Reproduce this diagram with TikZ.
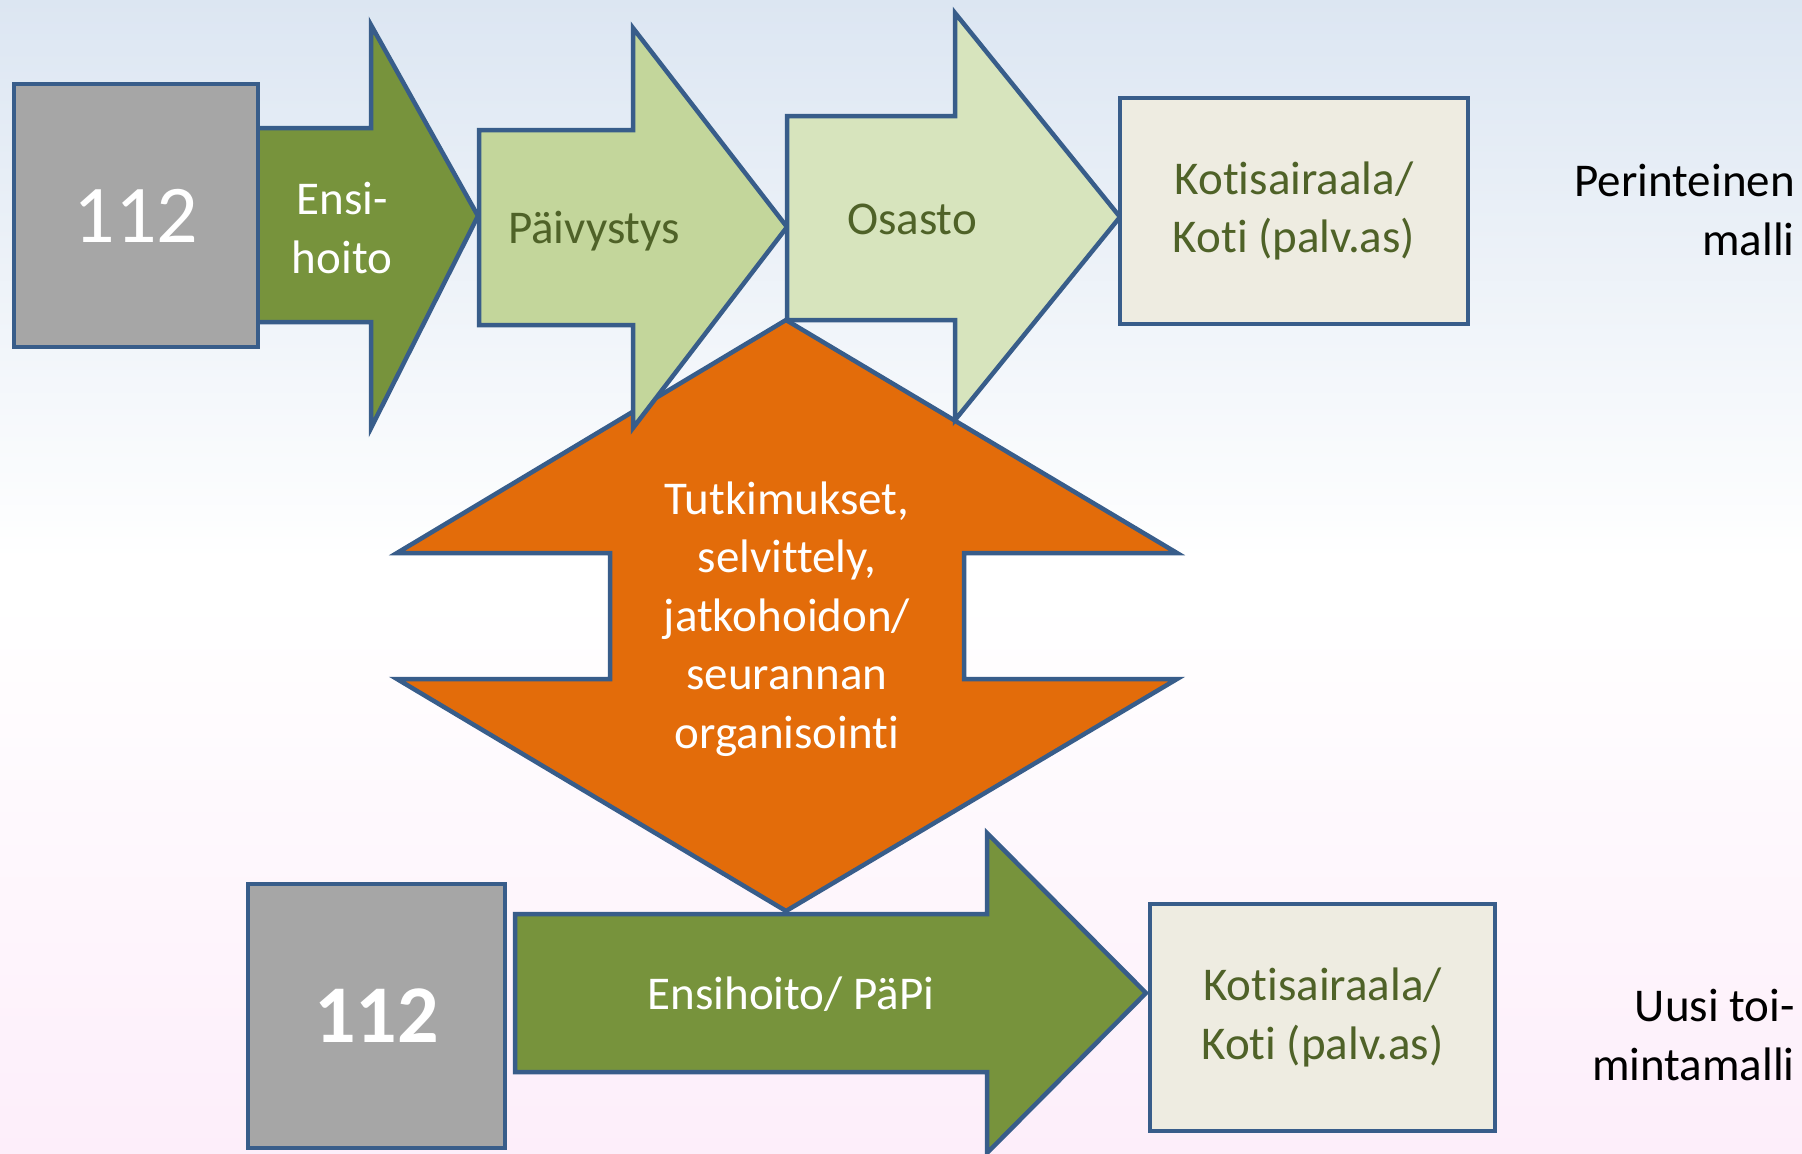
\documentclass[tikz,border=0pt]{standalone}
\usepackage{fontspec}
\setmainfont{Carlito}[Ligatures=NoCommon]
\definecolor{outl}{HTML}{385D8A}
\definecolor{graybox}{HTML}{A6A6A6}
\definecolor{dkgreen}{HTML}{77933C}
\definecolor{midgreen}{HTML}{C3D69B}
\definecolor{ltgreen}{HTML}{D7E4BD}
\definecolor{beige}{HTML}{EEECE1}
\definecolor{orng}{HTML}{E36C0A}
\definecolor{txtgreen}{HTML}{4F6228}
\definecolor{bgblue}{HTML}{DCE6F2}
\definecolor{bgpink}{HTML}{FDEEFA}
\begin{document}
\begin{tikzpicture}[x=1pt,y=-1pt,line join=miter,
  shapeline/.style={draw=outl,line width=4.5pt},
  lbl/.style={font=\fontsize{47}{58.5}\selectfont,align=center,inner sep=0pt},
  bignum/.style={font=\fontsize{82}{90}\selectfont,text=white},
  box/.style={shapeline,rectangle,inner sep=0pt}]
\useasboundingbox (0,0) rectangle (1802,1154);
% background
\shade[top color=bgblue,bottom color=white] (0,0) rectangle (1802,560);
\fill[white] (0,559) rectangle (1802,600);
\shade[top color=white,bottom color=bgpink] (0,600) rectangle (1802,1154);

% orange double arrow (behind)
\draw[shapeline,fill=orng] (786,320) -- (1177,553) -- (964,553) -- (964,679) -- (1177,679)
  -- (786,911) -- (397,679) -- (610,679) -- (610,553) -- (397,553) -- cycle;
\node[lbl,text=white] (tutk) at (787,619) {Tutkimukset,\\selvittely,\\jatkohoidon/\\seurannan\\organisointi};

% top row
\draw[shapeline,fill=dkgreen] (256,128) -- (371,128) -- (371,25) -- (478,216) -- (371,428) -- (371,322) -- (256,322) -- cycle;
\node[box,fill=graybox,minimum width=244pt,minimum height=263pt,bignum] (n112a) at (136,215.5) {112};
\node[lbl,text=white] (ensi) at (342,228) {Ensi-\\hoito};

\draw[shapeline,fill=midgreen] (479,130) -- (633,130) -- (633,28) -- (787,227) -- (633,428) -- (633,325) -- (479,325) -- cycle;
\node[lbl,text=txtgreen] (paiv) at (594,231) {Päivystys};

\draw[shapeline,fill=ltgreen] (787,116) -- (955,116) -- (955,13) -- (1120,217) -- (955,420) -- (955,320) -- (787,320) -- cycle;
\node[lbl,text=txtgreen] (osasto) at (912,219) {Osasto};

\node[box,fill=beige,minimum width=348pt,minimum height=226pt,lbl,text=txtgreen] (koti1) at (1294,211) {Kotisairaala/\\Koti (palv.as)};

\node[lbl,anchor=east,align=right,text=black] (perint) at (1795,210) {Perinteinen\\malli};

% bottom row
\draw[shapeline,fill=dkgreen] (515,914) -- (987,914) -- (987,833) -- (1146,993) -- (987,1153) -- (987,1072) -- (515,1072) -- cycle;
\node[lbl,text=white] (papi) at (791,994) {Ensihoito/ PäPi};
\node[box,fill=graybox,minimum width=257pt,minimum height=264pt,bignum,font=\fontsize{82}{90}\selectfont\bfseries] (n112b) at (376.5,1016) {112};
\node[box,fill=beige,minimum width=345pt,minimum height=227pt,lbl,text=txtgreen] (koti2) at (1322.5,1017.5) {Kotisairaala/\\Koti (palv.as)};
\node[lbl,anchor=east,align=right,text=black] (uusi) at (1795,1035) {Uusi toi-\\mintamalli};
\end{tikzpicture}
\end{document}
